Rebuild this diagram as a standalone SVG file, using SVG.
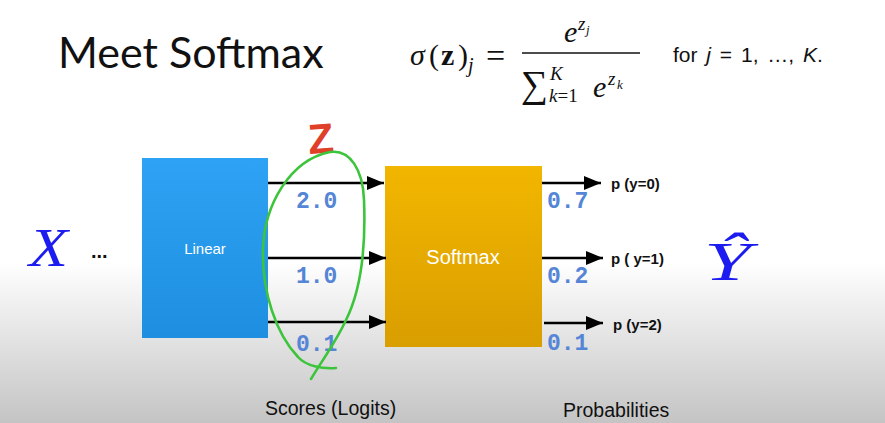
<svg xmlns="http://www.w3.org/2000/svg" width="885" height="423" viewBox="0 0 885 423">
<defs>
<linearGradient id="bg" x1="0" y1="0" x2="0" y2="1">
<stop offset="0" stop-color="#ffffff"/>
<stop offset="0.62" stop-color="#ffffff"/>
<stop offset="1" stop-color="#c4c4c4"/>
</linearGradient>
<linearGradient id="blue" x1="0" y1="0" x2="0" y2="1">
<stop offset="0" stop-color="#2ea2f4"/>
<stop offset="1" stop-color="#1e8fe0"/>
</linearGradient>
<linearGradient id="orange" x1="0" y1="0" x2="0" y2="1">
<stop offset="0" stop-color="#f2b600"/>
<stop offset="1" stop-color="#d99e00"/>
</linearGradient>
<marker id="ah" markerWidth="17" markerHeight="14" refX="17" refY="7" orient="auto" markerUnits="userSpaceOnUse">
<path d="M0,0 L17,7 L0,14 Z" fill="#000"/>
</marker>
<style>
.title{font-family:Lato,"Liberation Sans",sans-serif;font-size:43px;fill:#111}
.math{font-family:"Liberation Serif","DejaVu Serif",serif;fill:#111}
.it{font-style:italic}
.sans{font-family:"Liberation Sans",Arial,sans-serif}
.val{font-family:"Liberation Mono","DejaVu Sans Mono",monospace;font-size:23px;font-weight:bold;fill:#5585d6}
.plab{font-family:"Liberation Sans",Arial,sans-serif;font-size:15px;font-weight:bold;fill:#111}
.arr{stroke:#000;stroke-width:2.5;fill:none;marker-end:url(#ah)}
.node-label{font-family:"Liberation Sans",Arial,sans-serif;fill:#fff}
.bottom{font-family:"Liberation Sans",Arial,sans-serif;font-size:19.5px;fill:#111}
.big{font-family:"Liberation Serif","Times New Roman",serif;font-style:italic;font-size:54px;fill:#1c1cf0}
</style>
</defs>
<rect x="0" y="0" width="885" height="423" fill="url(#bg)"/>

<text class="title" x="58" y="68">Meet Softmax</text>

<g id="formula">
<text class="math it" x="410" y="65" font-size="30">σ</text>
<text class="math" x="429" y="65" font-size="30">(</text>
<text class="math" x="441" y="65" font-size="30" font-weight="bold">z</text>
<text class="math" x="458" y="65" font-size="30">)</text>
<text class="math it" x="468" y="72" font-size="20">j</text>
<text class="math" x="486" y="67" font-size="34">=</text>
<text class="math it" x="564" y="42" font-size="30">e</text>
<text class="math it" x="578" y="30" font-size="19">z</text>
<text class="math it" x="586" y="34" font-size="13">j</text>
<line x1="522" y1="53" x2="640" y2="53" stroke="#111" stroke-width="1.4"/>
<text class="math" x="521" y="97" font-size="38">∑</text>
<text class="math it" x="550" y="80" font-size="19">K</text>
<text class="math" x="549" y="102" font-size="19"><tspan class="it">k</tspan>=1</text>
<text class="math it" x="593" y="97" font-size="30">e</text>
<text class="math it" x="608" y="85" font-size="19">z</text>
<text class="math it" x="617" y="89" font-size="13">k</text>
<text class="sans" x="673" y="62" font-size="21" fill="#111" word-spacing="3">for <tspan class="it">j</tspan> = 1, …, <tspan class="it">K</tspan>.</text>
</g>

<g id="X">
<text class="big" x="29" y="266" textLength="39" lengthAdjust="spacingAndGlyphs">X</text>
<text class="sans" x="91" y="258" font-size="20" font-weight="bold" fill="#111">...</text>
</g>

<g id="linear">
<rect x="142" y="158" width="126" height="180" fill="url(#blue)"/>
<text class="node-label" x="205" y="254" font-size="15" text-anchor="middle">Linear</text>
</g>

<g id="softmax">
<rect x="385" y="166" width="157" height="181" fill="url(#orange)"/>
<text class="node-label" x="463" y="264" font-size="20" text-anchor="middle">Softmax</text>
</g>

<g id="Yhat">
<text class="big" x="704" y="280" textLength="47" lengthAdjust="spacingAndGlyphs">Ŷ</text>
</g>

<g id="connectors">
<line class="arr" x1="268" y1="183" x2="384" y2="183"/>
<line class="arr" x1="268" y1="258" x2="386" y2="258"/>
<line class="arr" x1="268" y1="322" x2="386" y2="322"/>
<line class="arr" x1="542" y1="183" x2="601" y2="183"/>
<line class="arr" x1="542" y1="258" x2="603" y2="258"/>
<line class="arr" x1="544" y1="323" x2="603" y2="323"/>
</g>

<g id="logits">
<text class="val" x="296" y="208">2.0</text>
<text class="val" x="296" y="283">1.0</text>
<text class="val" x="296" y="351">0.1</text>
</g>

<g id="probs">
<text class="val" x="547" y="208">0.7</text>
<text class="val" x="547" y="283">0.2</text>
<text class="val" x="547" y="350">0.1</text>
<text class="plab" x="611" y="189">p (y=0)</text>
<text class="plab" x="611" y="264">p ( y=1)</text>
<text class="plab" x="613" y="330">p (y=2)</text>
</g>

<g id="annotation">
<text x="308" y="153" font-family="'Liberation Sans',Arial,sans-serif" font-size="42" font-weight="bold" fill="#e0402a" transform="rotate(-4 323 138)">Z</text>
<path d="M336 368 C322 369 306 366 298 357 C276 334 262 292 263 250 C264 205 290 160 330 152 C350 149 363 170 364 200 C366 250 361 290 346 320 C336 342 321 362 311 379" fill="none" stroke="#3cc43a" stroke-width="2.6" stroke-linecap="round"/>
</g>

<text class="bottom" x="265" y="415">Scores (Logits)</text>
<text class="bottom" x="563" y="417">Probabilities</text>
</svg>
